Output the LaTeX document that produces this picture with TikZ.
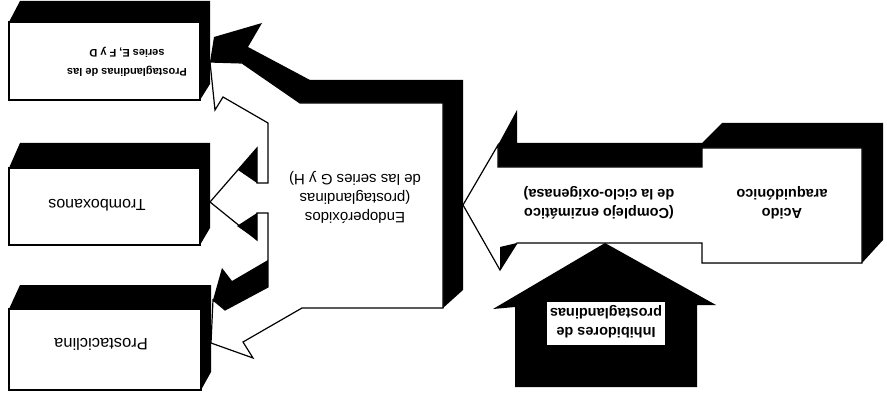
\documentclass[tikz,border=0pt]{standalone}
\usepackage{fontspec}
\setmainfont{Liberation Sans}
\begin{document}
\begin{tikzpicture}[x=1pt,y=-1pt,
  face/.style={fill=white,draw=black,line width=1.2pt,line join=miter},
  dark/.style={fill=black},
  lbl/.style={rotate=180,align=center,inner sep=0pt,text=black},
  lblb/.style={lbl,font=\bfseries\fontsize{14.5}{19}\selectfont},
  lblr/.style={lbl,font=\fontsize{15}{19}\selectfont}]
\useasboundingbox[fill=white] (0,0) rectangle (887,393);

% ---- left boxes ----
\fill[dark] (9,22) -- (20,1) -- (210,1) -- (210,84) -- (200,100) -- (200,22) -- cycle;
\draw[face] (9,22) rectangle (200,100);
\fill[dark] (9,168) -- (20,143) -- (210,143) -- (210,228) -- (200,245) -- (200,168) -- cycle;
\draw[face] (9,168) rectangle (200,245);
\fill[dark] (9,309) -- (20,285) -- (211,285) -- (211,372) -- (201,390) -- (201,309) -- cycle;
\draw[face] (9,309) rectangle (201,390);

% ---- central block with three arrows ----
\fill[dark] (210,62) -- (214,37) -- (262,23) -- (248,47) -- (310,80) -- (463,80)
  -- (463,290) -- (443,308) -- (443,103) -- (300,103) -- (242,63) -- cycle;
\fill[dark] (213,300) -- (222,268) -- (232,281) -- (268,260) -- (268,287) -- (225,310) -- cycle;
\draw[face] (210,62) -- (242,63) -- (300,103) -- (443,103) -- (443,308) -- (302,308)
  -- (243,342) -- (253,358) -- (211,343) -- (213,300) -- (225,310) -- (268,287)
  -- (268,213) -- (257,213) -- (257,240) -- (210,202) -- (257,148) -- (257,183)
  -- (268,183) -- (268,123) -- (223,97) -- (215,110) -- cycle;
\fill[dark] (238,170) -- (257,148) -- (257,183) -- cycle;
\fill[dark] (237,226) -- (257,213) -- (257,240) -- cycle;

% ---- enzyme arrow and acid block ----
\fill[dark] (498,167) -- (498,145) -- (517,110) -- (517,143) -- (702,143) -- (722,123)
  -- (883,123) -- (883,240) -- (862,263) -- (702,263) -- (702,167) -- cycle;
\draw[face] (463,205) -- (498,145) -- (498,167) -- (702,167) -- (702,148) -- (862,148)
  -- (862,263) -- (702,263) -- (702,243) -- (517,243) -- (500,270) -- cycle;
\fill[dark] (500,247) -- (517,243) -- (500,270) -- cycle;

% ---- inhibitor arrow ----
\fill[dark] (605,243) -- (716,305) -- (697,305) -- (697,387) -- (515,387) -- (515,307)
  -- (493,309) -- cycle;
\fill[white] (547,302) rectangle (665,345);

% ---- texts ----
\node[lbl,font=\bfseries\fontsize{11}{19}\selectfont] (pefd) at (127,62)
  {Prostaglandinas de las\\series E, F y D};
\node[lblr,font=\fontsize{16}{19}\selectfont] (trom) at (97,205) {Tromboxanos};
\node[lblr,font=\fontsize{16.5}{19}\selectfont] (prci) at (101,344) {Prostaciclina};
\node[lblr] (endo) at (355,197) {Endoperóxidos\\(prostaglandinas\\de las series G y H)};
\node[lblb] (enzi) at (599,203) {(Complejo enzimático\\de la ciclo-oxigenasa)};
\node[lblb] (acid) at (782,203) {Acido\\araquidónico};
\node[lblb] (inhi) at (606,322) {Inhibidores de\\prostaglandinas};
\end{tikzpicture}
\end{document}
